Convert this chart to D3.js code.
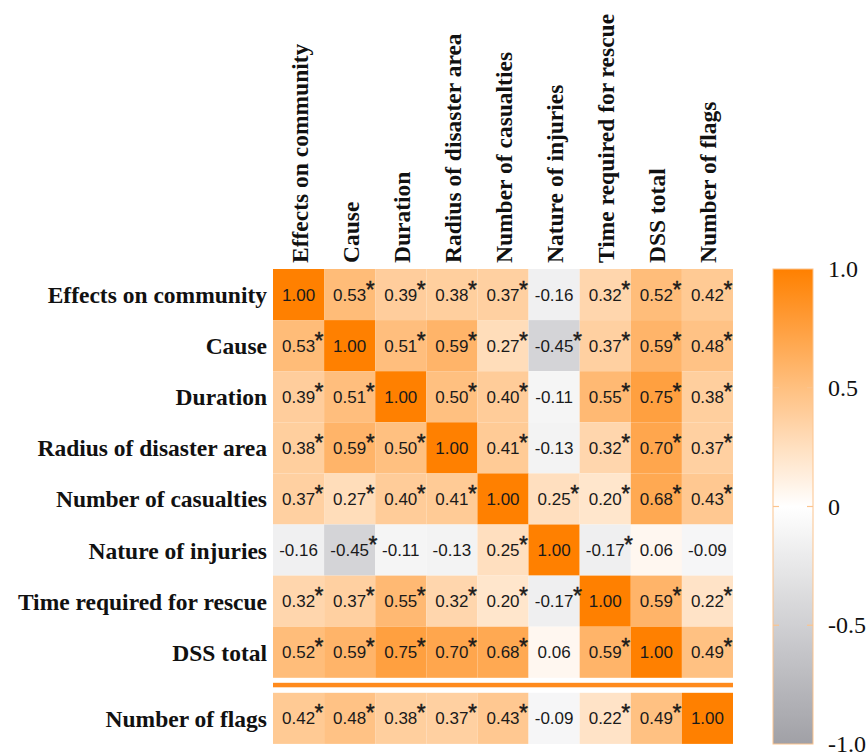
<!DOCTYPE html>
<html>
<head>
<meta charset="utf-8">
<script src="https://cdn.jsdelivr.net/npm/d3@7"></script>
<style>
  html, body { margin: 0; padding: 0; background: #fff; }
  svg { display: block; }
</style>
</head>
<body>
<svg id="chart" width="868" height="753"></svg>
<script>
// Variables shown on both axes (the last one is set apart below a divider)
const categories = [
  "Effects on community",
  "Cause",
  "Duration",
  "Radius of disaster area",
  "Number of casualties",
  "Nature of injuries",
  "Time required for rescue",
  "DSS total",
  "Number of flags"
];

// Correlation coefficients, one row per variable
const corrValues = [
  [ 1.00,  0.53,  0.39,  0.38,  0.37, -0.16,  0.32,  0.52,  0.42],
  [ 0.53,  1.00,  0.51,  0.59,  0.27, -0.45,  0.37,  0.59,  0.48],
  [ 0.39,  0.51,  1.00,  0.50,  0.40, -0.11,  0.55,  0.75,  0.38],
  [ 0.38,  0.59,  0.50,  1.00,  0.41, -0.13,  0.32,  0.70,  0.37],
  [ 0.37,  0.27,  0.40,  0.41,  1.00,  0.25,  0.20,  0.68,  0.43],
  [-0.16, -0.45, -0.11, -0.13,  0.25,  1.00, -0.17,  0.06, -0.09],
  [ 0.32,  0.37,  0.55,  0.32,  0.20, -0.17,  1.00,  0.59,  0.22],
  [ 0.52,  0.59,  0.75,  0.70,  0.68,  0.06,  0.59,  1.00,  0.49],
  [ 0.42,  0.48,  0.38,  0.37,  0.43, -0.09,  0.22,  0.49,  1.00]
];

// 1 = significant (marked with an asterisk)
const significant = [
  [0, 1, 1, 1, 1, 0, 1, 1, 1],
  [1, 0, 1, 1, 1, 1, 1, 1, 1],
  [1, 1, 0, 1, 1, 0, 1, 1, 1],
  [1, 1, 1, 0, 1, 0, 1, 1, 1],
  [1, 1, 1, 1, 0, 1, 1, 1, 1],
  [0, 1, 0, 0, 1, 0, 1, 0, 0],
  [1, 1, 1, 1, 1, 1, 0, 1, 1],
  [1, 1, 1, 1, 1, 0, 1, 0, 1],
  [1, 1, 1, 1, 1, 0, 1, 1, 0]
];

// Colour bar ticks
const legendTicks = [1, 0.5, 0, -0.5, -1];
const legendTickLabels = ["1.0", "0.5", "0", "-0.5", "-1.0"];

const svg = d3.select("#chart");

const gridLeft = 273, gridRight = 733, gridTop = 269;
const cellH = 51.1;
const groupGap = 15;
const mainRows = categories.length - 1;

const x = d3.scaleBand().domain(categories).range([gridLeft, gridRight]);
const yBand = d3.scaleBand().domain(categories)
  .range([gridTop, gridTop + cellH * categories.length]);
// the final row sits below a divider
const y = name => yBand(name) + (categories.indexOf(name) >= mainRows ? groupGap : 0);

const color = d3.scaleLinear()
  .domain([-1, 0, 1])
  .range(["#a0a0a6", "#ffffff", "#ff8000"])
  .interpolate(d3.interpolateRgb);

const cells = [];
corrValues.forEach((row, i) => row.forEach((v, j) => {
  cells.push({ r: categories[i], c: categories[j], v, sig: significant[i][j] === 1 });
}));

// heatmap cells
svg.append("g").selectAll("rect").data(cells).join("rect")
  .attr("x", d => x(d.c))
  .attr("y", d => y(d.r))
  .attr("width", x.bandwidth())
  .attr("height", yBand.bandwidth())
  .attr("fill", d => color(d.v));

// value labels
const labels = svg.append("g")
  .attr("font-family", "'Liberation Sans', Arial, sans-serif")
  .attr("font-size", 17)
  .attr("fill", "#1a1a1a")
  .selectAll("g").data(cells).join("g")
  .attr("transform", d => `translate(${x(d.c) + x.bandwidth() / 2},${y(d.r) + yBand.bandwidth() / 2 + 6})`);

labels.append("text")
  .attr("text-anchor", "middle")
  .text(d => d.v.toFixed(2));

labels.filter(d => d.sig).append("text")
  .attr("x", function () {
    return this.parentNode.querySelector("text").getComputedTextLength() / 2 - 0.5;
  })
  .attr("y", 0)
  .attr("dy", -3)
  .attr("font-size", 23)
  .attr("stroke", "#1a1a1a")
  .attr("stroke-width", 0.4)
  .text("*");

// divider between the main block and the last row
const lastRowTop = y(categories[mainRows]);
svg.append("rect")
  .attr("x", gridLeft)
  .attr("width", gridRight - gridLeft)
  .attr("y", lastRowTop - 10)
  .attr("height", 4.5)
  .attr("fill", "#ff8a1c");

// row labels
svg.append("g")
  .attr("font-family", "'Liberation Serif', 'Times New Roman', serif")
  .attr("font-weight", "bold")
  .attr("font-size", 23.5)
  .attr("fill", "#111")
  .selectAll("text").data(categories).join("text")
  .attr("text-anchor", "end")
  .attr("x", gridLeft - 6)
  .attr("y", d => y(d) + yBand.bandwidth() / 2 + 8.5)
  .text(d => d);

// column labels
svg.append("g")
  .attr("font-family", "'Liberation Serif', 'Times New Roman', serif")
  .attr("font-weight", "bold")
  .attr("font-size", 23.5)
  .attr("fill", "#111")
  .selectAll("text").data(categories).join("text")
  .attr("text-anchor", "start")
  .attr("transform", d => `translate(${x(d) + x.bandwidth() / 2 + 9},${gridTop - 6}) rotate(-90)`)
  .text(d => d);

// colour bar
const barX = 773, barW = 40;
const legendY = d3.scaleLinear().domain([-1, 1]).range([744, 269]);

const grad = svg.append("defs").append("linearGradient")
  .attr("id", "corrGrad")
  .attr("x1", 0).attr("x2", 0).attr("y1", 1).attr("y2", 0);
d3.range(-1, 1.0001, 0.1).forEach(t => {
  grad.append("stop")
    .attr("offset", (t + 1) / 2)
    .attr("stop-color", color(t));
});

svg.append("rect")
  .attr("x", barX)
  .attr("y", legendY(1))
  .attr("width", barW)
  .attr("height", legendY(-1) - legendY(1))
  .attr("fill", "url(#corrGrad)")
  .attr("stroke", "#fcc48e")
  .attr("stroke-width", 1);

const innerTicks = legendTicks.filter(t => t > -1 && t < 1);
const tickG = svg.append("g").attr("stroke", "#fcc48e").attr("stroke-width", 1.2);
innerTicks.forEach(t => {
  tickG.append("line").attr("x1", barX).attr("x2", barX + 6)
    .attr("y1", legendY(t)).attr("y2", legendY(t));
  tickG.append("line").attr("x1", barX + barW - 6).attr("x2", barX + barW)
    .attr("y1", legendY(t)).attr("y2", legendY(t));
});

svg.append("g")
  .attr("font-family", "'Liberation Serif', 'Times New Roman', serif")
  .attr("font-size", 24)
  .attr("fill", "#111")
  .selectAll("text").data(legendTicks).join("text")
  .attr("x", 828)
  .attr("y", d => legendY(d) + 8)
  .text((d, i) => legendTickLabels[i]);
</script>
</body>
</html>
